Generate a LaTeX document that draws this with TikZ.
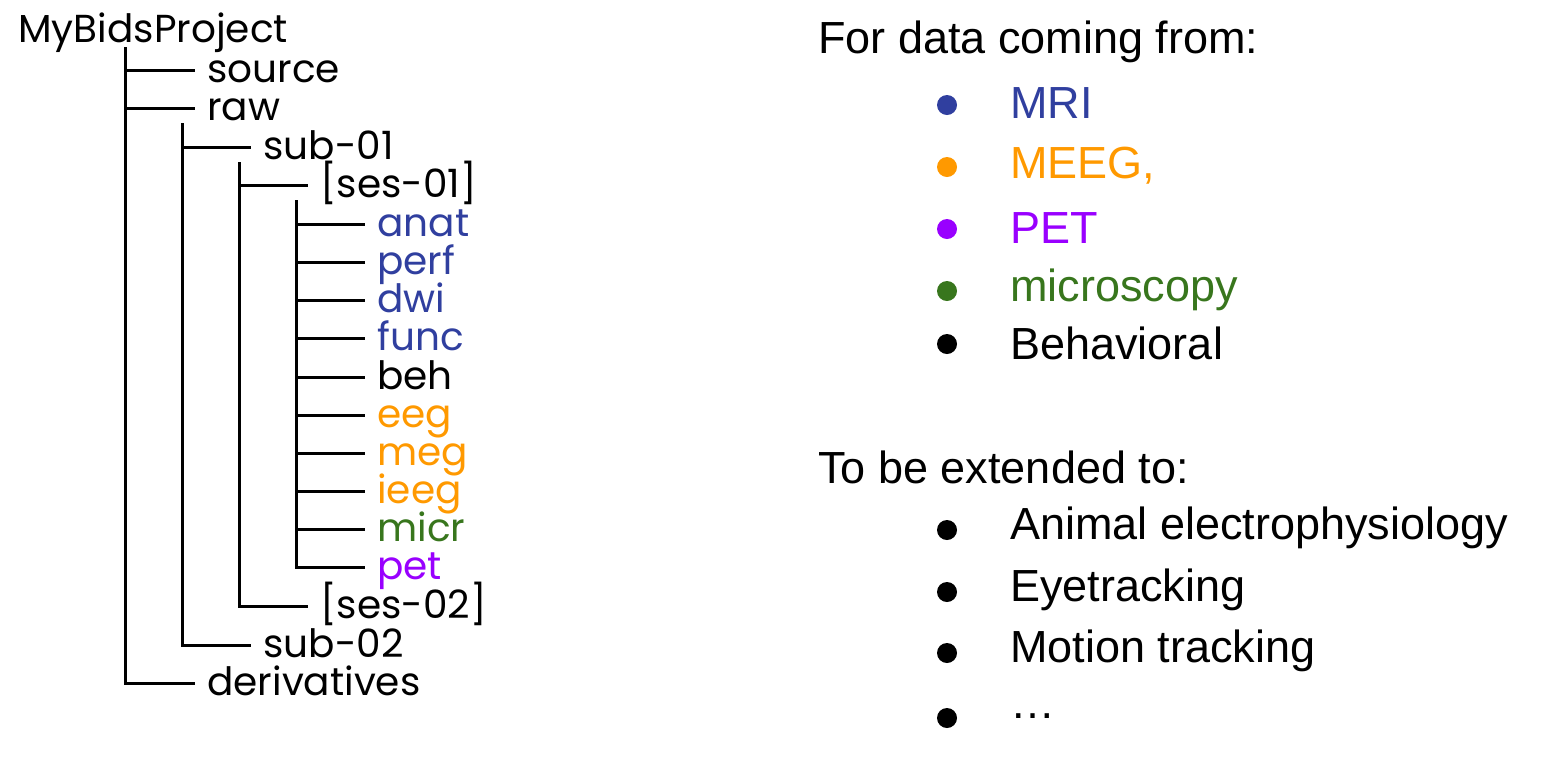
\documentclass[tikz,border=0pt]{standalone}
\usepackage{fontspec}
\setmainfont{Liberation Sans}
\newfontfamily\treefont{Poppins}
\usetikzlibrary{positioning}
\definecolor{mri}{RGB}{48,63,159}
\definecolor{meeg}{RGB}{255,153,0}
\definecolor{pet}{RGB}{153,0,255}
\definecolor{micro}{RGB}{56,118,29}

\begin{document}
\begin{tikzpicture}[
  x=0.5pt, y=-0.5pt,
  dir/.style={font=\treefont\fontsize{19.5}{19.5}\selectfont, anchor=west, inner xsep=6pt, inner ysep=0pt,
    text height=15pt, text depth=2.5pt},
  branch/.style={line width=1.5pt},
  head/.style={font=\fontsize{22.5}{22.5}\selectfont, anchor=west, inner sep=0pt},
  item/.style={font=\fontsize{22.5}{22.5}\selectfont, anchor=west, inner sep=0pt},
  dot/.style={circle, fill, inner sep=0pt, minimum size=10pt},
]
\useasboundingbox (0,0) rectangle (1553,767);

% TREE
\node[dir, anchor=west, inner xsep=0pt] (root) at (18, 30) {MyBidsProject};
\coordinate (t1) at (125, 47);
\node[dir] (source) at (195, 70) {source};
\node[dir] (raw) at (195, 108) {raw};
\coordinate (t2) at (182, 123);
\node[dir] (sub1) at (251, 147) {sub-01};
\coordinate (t3) at (239, 162);
\node[dir] (ses1) at (308, 185) {[ses-01]};
\coordinate (t4) at (296, 200);
\node[dir, text=mri] (anat) at (365, 224) {anat};
\node[dir, text=mri] (perf) at (365, 262) {perf};
\node[dir, text=mri] (dwi) at (365, 300) {dwi};
\node[dir, text=mri] (func) at (365, 338) {func};
\node[dir] (beh) at (365, 377) {beh};
\node[dir, text=meeg] (eeg) at (365, 415) {eeg};
\node[dir, text=meeg] (meg) at (365, 453) {meg};
\node[dir, text=meeg] (ieeg) at (365, 491) {ieeg};
\node[dir, text=micro] (micr) at (365, 529) {micr};
\node[dir, text=pet] (petdir) at (365, 567) {pet};
\node[dir] (ses2) at (308, 606) {[ses-02]};
\node[dir] (sub2) at (251, 645) {sub-02};
\node[dir] (deriv) at (195, 683) {derivatives};

\draw[branch] (t1) |- (deriv.west);
\draw[branch] (source.west -| t1) -- (source.west);
\draw[branch] (raw.west -| t1) -- (raw.west);
\draw[branch] (t2) |- (sub2.west);
\draw[branch] (sub1.west -| t2) -- (sub1.west);
\draw[branch] (t3) |- (ses2.west);
\draw[branch] (ses1.west -| t3) -- (ses1.west);
\draw[branch] (t4) |- (petdir.west);
\draw[branch] (anat.west -| t4) -- (anat.west);
\draw[branch] (perf.west -| t4) -- (perf.west);
\draw[branch] (dwi.west -| t4) -- (dwi.west);
\draw[branch] (func.west -| t4) -- (func.west);
\draw[branch] (beh.west -| t4) -- (beh.west);
\draw[branch] (eeg.west -| t4) -- (eeg.west);
\draw[branch] (meg.west -| t4) -- (meg.west);
\draw[branch] (ieeg.west -| t4) -- (ieeg.west);
\draw[branch] (micr.west -| t4) -- (micr.west);

% DATA SOURCES
\node[head] (from) at (818, 42) {For data coming from:};
\node[dot, mri] (d1) at (947, 105) {};
\node[dot, meeg] (d2) at (947, 167) {};
\node[dot, pet] (d3) at (947, 229) {};
\node[dot, micro] (d4) at (947, 291) {};
\node[dot] (d5) at (947, 344) {};
\node[item, text=mri] (mri) at (1010, 103) {MRI};
\node[item, text=meeg] (meegtxt) at (1010, 166) {MEEG,};
\node[item, text=pet] (pettxt) at (1010, 228) {PET};
\node[item, text=micro] (microtxt) at (1010, 290) {microscopy};
\node[item] (behav) at (1010, 343) {Behavioral};

% EXTENSIONS
\node[head] (ext) at (818, 467) {To be extended to:};
\node[dot] (e1) at (947, 530) {};
\node[dot] (e2) at (947, 592) {};
\node[dot] (e3) at (947, 653) {};
\node[dot] (e4) at (947, 718) {};
\node[item] (animal) at (1010, 528) {Animal electrophysiology};
\node[item] (eye) at (1010, 590) {Eyetracking};
\node[item] (motion) at (1010, 651) {Motion tracking};
\node[item] (more) at (1010, 716) {\dots};
\end{tikzpicture}
\end{document}
